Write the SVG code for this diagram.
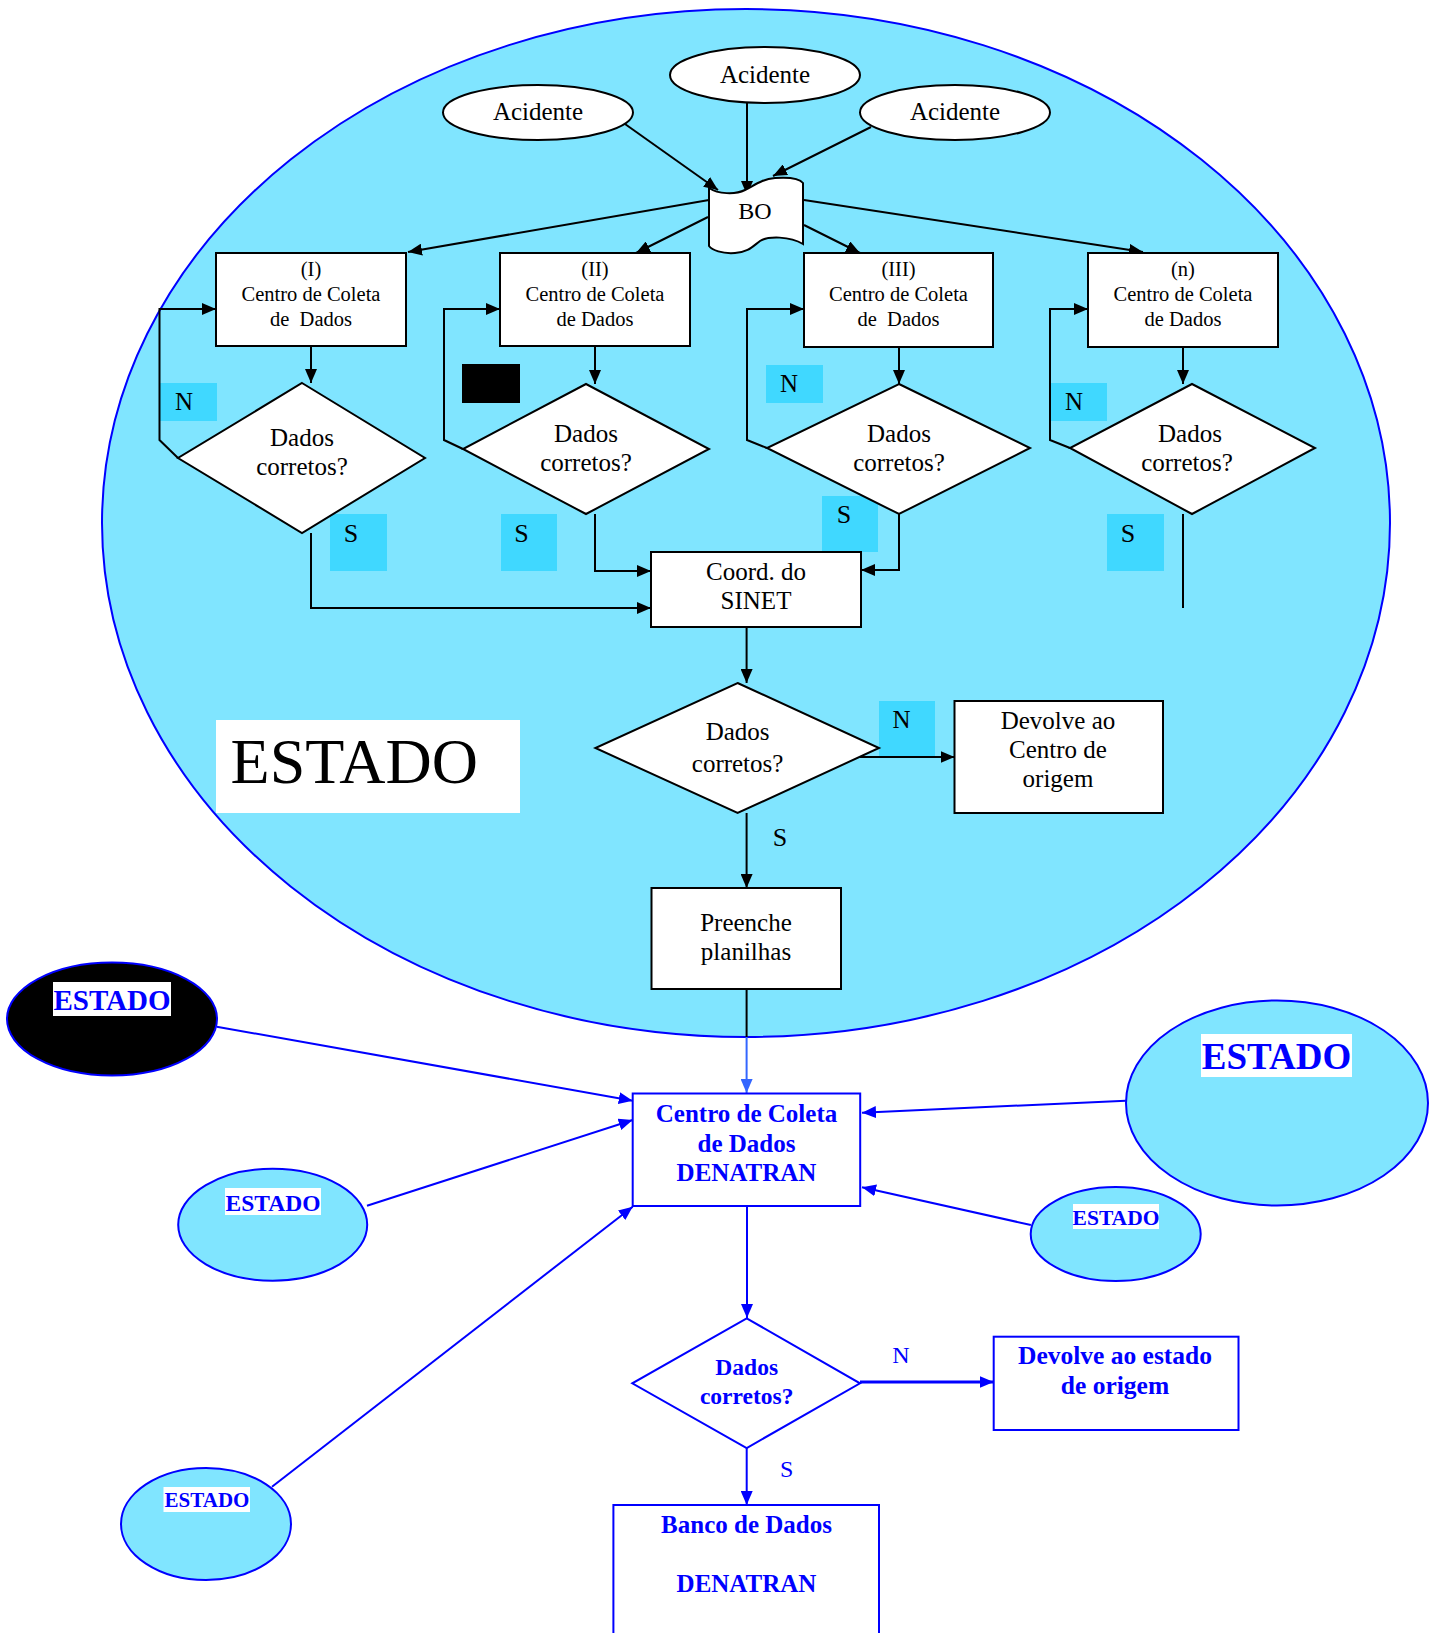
<svg xmlns="http://www.w3.org/2000/svg" width="1439" height="1633" viewBox="0 0 1439 1633">
<style>
.bk{fill:none;stroke:#000;stroke-width:2}
.bl{fill:none;stroke:#0000ff;stroke-width:2}
.wb{fill:#fff;stroke:#000;stroke-width:2}
.wbl{fill:#fff;stroke:#0000ff;stroke-width:2}
.cy{fill:#80e5ff;stroke:#0000ff;stroke-width:2}
.lab{fill:#40d8ff}
.t{font-family:"Liberation Serif","Times New Roman",serif;fill:#000;text-anchor:middle}
.tb{font-family:"Liberation Serif","Times New Roman",serif;fill:#0000ff;font-weight:bold;text-anchor:middle}
.tbr{font-family:"Liberation Serif","Times New Roman",serif;fill:#0000ff;text-anchor:middle}
.s25{font-size:25px}
.s20{font-size:20.5px}
</style>
<defs>
<marker id="ak" markerUnits="userSpaceOnUse" markerWidth="14" markerHeight="12" refX="14" refY="6" orient="auto"><path d="M0,0 L14,6 L0,12 z" fill="#000"/></marker>
<marker id="ab" markerUnits="userSpaceOnUse" markerWidth="14" markerHeight="12" refX="14" refY="6" orient="auto"><path d="M0,0 L14,6 L0,12 z" fill="#0000ff"/></marker>
<marker id="al" markerUnits="userSpaceOnUse" markerWidth="14" markerHeight="12" refX="14" refY="6" orient="auto"><path d="M0,0 L14,6 L0,12 z" fill="#3366ff"/></marker>
</defs>

<g id="estado-main">
<ellipse cx="746" cy="523" rx="644" ry="514" fill="#80e5ff" stroke="#0000ff" stroke-width="2"/>
<rect x="216" y="720" width="304" height="93" fill="#fff"/>
<text x="230.6" y="783" font-family="Liberation Serif, Times New Roman, serif" font-size="64">ESTADO</text>
</g>

<g id="labels-bg">
<rect class="lab" x="160" y="383" width="57" height="38"/>
<rect x="462" y="364" width="58" height="39" fill="#000"/>
<rect class="lab" x="766" y="365" width="57" height="38"/>
<rect class="lab" x="1050" y="383" width="57" height="38"/>
<rect class="lab" x="330" y="514" width="57" height="57"/>
<rect class="lab" x="501" y="514" width="56" height="57"/>
<rect class="lab" x="822" y="496" width="56" height="56"/>
<rect class="lab" x="1107" y="514" width="57" height="57"/>
<rect class="lab" x="879" y="701" width="56" height="55"/>
</g>

<g id="connectors">
<line class="bk" x1="625" y1="124" x2="718" y2="190" marker-end="url(#ak)"/>
<line class="bk" x1="747" y1="103" x2="747" y2="195" marker-end="url(#ak)"/>
<line class="bk" x1="871" y1="127" x2="773" y2="176" marker-end="url(#ak)"/>
<line class="bk" x1="709" y1="200" x2="408" y2="252" marker-end="url(#ak)"/>
<line class="bk" x1="708" y1="217" x2="636" y2="253" marker-end="url(#ak)"/>
<line class="bk" x1="804" y1="225" x2="860" y2="253" marker-end="url(#ak)"/>
<line class="bk" x1="804" y1="200" x2="1143" y2="252" marker-end="url(#ak)"/>
<line class="bk" x1="311" y1="346" x2="311" y2="383" marker-end="url(#ak)"/>
<line class="bk" x1="595" y1="346" x2="595" y2="384" marker-end="url(#ak)"/>
<line class="bk" x1="899" y1="347" x2="899" y2="384" marker-end="url(#ak)"/>
<line class="bk" x1="1183" y1="347" x2="1183" y2="384" marker-end="url(#ak)"/>
<path class="bk" d="M178,458 L159.5,440 L159.5,309 L216,309" marker-end="url(#ak)"/>
<path class="bk" d="M463,449 L444,440 L444,309 L500,309" marker-end="url(#ak)"/>
<path class="bk" d="M767,448 L747,440 L747,309 L804,309" marker-end="url(#ak)"/>
<path class="bk" d="M1070,448 L1050,440 L1050,309 L1088,309" marker-end="url(#ak)"/>
<path class="bk" d="M311,533 L311,608 L651,608" marker-end="url(#ak)"/>
<path class="bk" d="M595,514 L595,571 L651,571" marker-end="url(#ak)"/>
<path class="bk" d="M899,514 L899,570 L861,570" marker-end="url(#ak)"/>
<line class="bk" x1="1183" y1="514" x2="1183" y2="608"/>
<line class="bk" x1="746.6" y1="627" x2="746.6" y2="683" marker-end="url(#ak)"/>
<line class="bk" x1="860" y1="757" x2="954.5" y2="757" marker-end="url(#ak)"/>
<line class="bk" x1="746.6" y1="813" x2="746.6" y2="888" marker-end="url(#ak)"/>
<line class="bk" x1="746.6" y1="989" x2="746.6" y2="1037"/>
<line x1="746.6" y1="1037" x2="746.6" y2="1093" stroke="#3366ff" stroke-width="2" marker-end="url(#al)"/>
<line class="bl" x1="216.7" y1="1026.7" x2="632.7" y2="1100.7" marker-end="url(#ab)"/>
<line class="bl" x1="367" y1="1205.7" x2="632.7" y2="1120" marker-end="url(#ab)"/>
<line class="bl" x1="272" y1="1486.7" x2="632.7" y2="1206.7" marker-end="url(#ab)"/>
<line class="bl" x1="1125.8" y1="1100.7" x2="862" y2="1112.7" marker-end="url(#ab)"/>
<line class="bl" x1="1030.9" y1="1225" x2="862" y2="1187.3" marker-end="url(#ab)"/>
<line class="bl" x1="747" y1="1206" x2="747" y2="1318" marker-end="url(#ab)"/>
<line x1="860" y1="1382" x2="993.7" y2="1382" stroke="#0000ff" stroke-width="3" marker-end="url(#ab)"/>
<line class="bl" x1="746.7" y1="1448" x2="746.7" y2="1505" marker-end="url(#ab)"/>
</g>

<g id="acidente-1">
<ellipse class="wb" cx="538" cy="112.5" rx="95" ry="27.5"/>
<text class="t s25" x="538" y="120">Acidente</text>
</g>
<g id="acidente-2">
<ellipse class="wb" cx="765" cy="75" rx="95" ry="28"/>
<text class="t s25" x="765" y="83">Acidente</text>
</g>
<g id="acidente-3">
<ellipse class="wb" cx="955" cy="112.5" rx="95" ry="27.5"/>
<text class="t s25" x="955" y="120">Acidente</text>
</g>

<g id="bo">
<path class="wb" d="M709,188 C718,194 735,195 745,190 C755,185 762,179 775,178 C790,177 800,179 803,183 L803,244 C790,236 768,236 760,241 C752,247 748,252 735,253 C722,254 712,250 709,246 Z"/>
<text class="t" font-size="24" x="755" y="219">BO</text>
</g>

<g id="centro-1">
<rect class="wb" x="216" y="253" width="190" height="93"/>
<text class="t s20" x="311" y="276">(I)</text>
<text class="t s20" x="311" y="301">Centro de Coleta</text>
<text class="t s20" x="311" y="326" xml:space="preserve">de  Dados</text>
</g>
<g id="centro-2">
<rect class="wb" x="500" y="253" width="190" height="93"/>
<text class="t s20" x="595" y="276">(II)</text>
<text class="t s20" x="595" y="301">Centro de Coleta</text>
<text class="t s20" x="595" y="326">de Dados</text>
</g>
<g id="centro-3">
<rect class="wb" x="804" y="253" width="189" height="94"/>
<text class="t s20" x="898.5" y="276">(III)</text>
<text class="t s20" x="898.5" y="301">Centro de Coleta</text>
<text class="t s20" x="898.5" y="326" xml:space="preserve">de  Dados</text>
</g>
<g id="centro-n">
<rect class="wb" x="1088" y="253" width="190" height="94"/>
<text class="t s20" x="1183" y="276">(n)</text>
<text class="t s20" x="1183" y="301">Centro de Coleta</text>
<text class="t s20" x="1183" y="326">de Dados</text>
</g>

<g id="dec-1">
<polygon class="wb" points="302,383 425,458 302,533 178,458"/>
<text class="t s25" x="302" y="446">Dados</text>
<text class="t s25" x="302" y="475">corretos?</text>
</g>
<g id="dec-2">
<polygon class="wb" points="586,384 709,449 586,514 463,449"/>
<text class="t s25" x="586" y="442">Dados</text>
<text class="t s25" x="586" y="471">corretos?</text>
</g>
<g id="dec-3">
<polygon class="wb" points="899,384 1030,448 899,514 767,448"/>
<text class="t s25" x="899" y="442">Dados</text>
<text class="t s25" x="899" y="471">corretos?</text>
</g>
<g id="dec-n">
<polygon class="wb" points="1192,384 1315,448 1192,514 1070,448"/>
<text class="t s25" x="1190" y="442">Dados</text>
<text class="t s25" x="1187" y="471">corretos?</text>
</g>

<g id="coord">
<rect class="wb" x="651" y="552" width="210" height="75"/>
<text class="t s25" x="756" y="580">Coord. do</text>
<text class="t s25" x="756" y="609">SINET</text>
</g>

<g id="dec-main">
<polygon class="wb" points="737.6,683 879,748 737.6,813 595.4,748"/>
<text class="t s25" x="737.6" y="740">Dados</text>
<text class="t s25" x="737.6" y="771.7">corretos?</text>
</g>

<g id="devolve-centro">
<rect class="wb" x="954.5" y="701" width="208.5" height="112"/>
<text class="t s25" x="1058" y="729">Devolve ao</text>
<text class="t s25" x="1058" y="758">Centro de</text>
<text class="t s25" x="1058" y="787">origem</text>
</g>

<g id="preenche">
<rect class="wb" x="651.5" y="888" width="189.5" height="101"/>
<text class="t s25" x="746" y="931">Preenche</text>
<text class="t s25" x="746" y="960">planilhas</text>
</g>

<g id="label-texts">
<text class="t s25" x="184" y="410">N</text>
<text class="t s25" x="789" y="392">N</text>
<text class="t s25" x="1074" y="410">N</text>
<text class="t" font-size="26" x="351" y="542">S</text>
<text class="t" font-size="26" x="521.5" y="542">S</text>
<text class="t" font-size="26" x="844" y="523">S</text>
<text class="t" font-size="26" x="1128" y="542">S</text>
<text class="t s25" x="901.5" y="728">N</text>
<text class="t" font-size="26" x="780" y="846">S</text>
<text class="tbr" font-size="24" x="901" y="1363">N</text>
<text class="tbr" font-size="24" x="786.7" y="1477">S</text>
</g>

<g id="estado-black">
<ellipse cx="112" cy="1019" rx="105" ry="56.5" fill="#000" stroke="#0000ff" stroke-width="2"/>
<rect x="53" y="982" width="118" height="34" fill="#fff"/>
<text class="tb" font-size="29" x="112" y="1010">ESTADO</text>
</g>
<g id="estado-left">
<ellipse class="cy" cx="272.7" cy="1224.7" rx="94.5" ry="56"/>
<rect x="225" y="1188" width="96" height="27" fill="#fff"/>
<text class="tb" font-size="23.5" x="273" y="1211">ESTADO</text>
</g>
<g id="estado-big">
<ellipse class="cy" cx="1277" cy="1103" rx="151" ry="102.5"/>
<rect x="1201" y="1034" width="151" height="43" fill="#fff"/>
<text class="tb" font-size="37" x="1276.5" y="1069">ESTADO</text>
</g>
<g id="estado-right">
<ellipse class="cy" cx="1115.7" cy="1234" rx="85" ry="47"/>
<rect x="1073" y="1204" width="86" height="25" fill="#fff"/>
<text class="tb" font-size="21.5" x="1116" y="1225">ESTADO</text>
</g>
<g id="estado-lowleft">
<ellipse class="cy" cx="206" cy="1524" rx="85" ry="56"/>
<rect x="163.5" y="1487" width="86.5" height="25" fill="#fff"/>
<text class="tb" font-size="21" x="207" y="1507">ESTADO</text>
</g>

<g id="centro-denatran">
<rect class="wbl" x="632.7" y="1093.5" width="227.5" height="112.5"/>
<text class="tb s25" x="746.5" y="1122">Centro de Coleta</text>
<text class="tb s25" x="746.5" y="1152">de Dados</text>
<text class="tb s25" x="746.5" y="1181">DENATRAN</text>
</g>

<g id="dec-denatran">
<polygon class="wbl" points="746.7,1318.3 860,1383.3 746.7,1448 632.3,1383.3"/>
<text class="tb" font-size="23.5" x="746.7" y="1375">Dados</text>
<text class="tb" font-size="23.5" x="746.7" y="1404">corretos?</text>
</g>

<g id="devolve-estado">
<rect class="wbl" x="993.7" y="1336.7" width="244.8" height="93.3"/>
<text class="tb" font-size="25.5" x="1115" y="1364">Devolve ao estado</text>
<text class="tb" font-size="25.5" x="1115" y="1394">de origem</text>
</g>

<g id="banco">
<path d="M613.4,1640 L613.4,1505 L879,1505 L879,1640" fill="#fff" stroke="#0000ff" stroke-width="2"/>
<text class="tb s25" x="746.5" y="1533">Banco de Dados</text>
<text class="tb s25" x="746.5" y="1592">DENATRAN</text>
</g>
</svg>
